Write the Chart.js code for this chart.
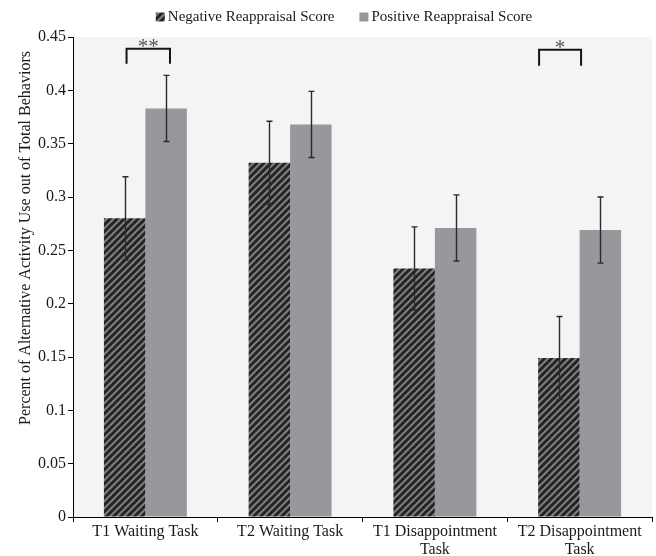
<!DOCTYPE html>
<html>
<head>
<meta charset="utf-8">
<script src="https://cdn.jsdelivr.net/npm/chart.js@4.4.1/dist/chart.umd.min.js"></script>
<style>
  html, body { margin: 0; padding: 0; background: #ffffff; }
  #wrap { width: 656px; height: 556px; position: relative; }
</style>
</head>
<body>
<div id="wrap"><canvas id="chart"></canvas></div>
<script>
// data
const categories = [
  ["T1 Waiting Task"],
  ["T2 Waiting Task"],
  ["T1 Disappointment", "Task"],
  ["T2 Disappointment", "Task"],
];
const seriesNames = ["Negative Reappraisal Score", "Positive Reappraisal Score"];
const negScores = [0.280, 0.332, 0.233, 0.149];
const posScores = [0.383, 0.368, 0.271, 0.269];
const negErrors = [0.039, 0.039, 0.039, 0.039];
const posErrors = [0.031, 0.031, 0.031, 0.031];
const yTicks = [0, 0.05, 0.1, 0.15, 0.2, 0.25, 0.3, 0.35, 0.4, 0.45];
const yTickLabels = ["0", "0.05", "0.1", "0.15", "0.2", "0.25", "0.3", "0.35", "0.4", "0.45"];
const yTitle = "Percent of Alternative Activity Use out of Total Behaviors";

// significance brackets: start/end in category units, top/foot in value units
const sigLabels = ["**", "*"];
const sigStart = [-0.13, 2.72];
const sigEnd = [0.17, 3.01];
const sigTop = [0.439, 0.438];
const sigFoot = [0.425, 0.423];

const FONT = "'Liberation Serif', 'Times New Roman', serif";
const POS_COLOR = "#97989c";
const PLOT_BG = "#f4f4f4";

// diagonal hatch for the negative series
function makeHatch() {
  const s = 7;
  const c = document.createElement("canvas");
  c.width = s;
  c.height = s;
  const g = c.getContext("2d");
  g.fillStyle = "#808080";
  g.fillRect(0, 0, s, s);
  g.strokeStyle = "#242424";
  g.lineWidth = 3;
  g.beginPath();
  for (let k = -1; k <= 1; k++) {
    g.moveTo(k * s - 1, s + 1);
    g.lineTo(k * s + s + 1, -1);
  }
  g.stroke();
  return g.createPattern(c, "repeat");
}
const hatch = makeHatch();
const errors = [negErrors, posErrors];

// plot background
const plotBg = {
  id: "plotBg",
  beforeDraw(chart) {
    const { ctx, chartArea: a } = chart;
    ctx.save();
    ctx.fillStyle = PLOT_BG;
    ctx.fillRect(a.left, a.top, a.right - a.left, a.bottom - a.top);
    ctx.restore();
  },
};

// error bars, brackets, legend and y title
const extras = {
  id: "extras",
  afterDatasetsDraw(chart) {
    const { ctx } = chart;
    const xs = chart.scales.x;
    const ys = chart.scales.y;
    ctx.save();
    ctx.strokeStyle = "#2a2a2a";
    ctx.lineWidth = 1.4;
    chart.data.datasets.forEach((ds, i) => {
      chart.getDatasetMeta(i).data.forEach((el, j) => {
        const v = ds.data[j];
        const e = errors[i][j];
        const x = Math.round(el.x) + 0.5;
        const y1 = ys.getPixelForValue(v + e);
        const y2 = ys.getPixelForValue(v - e);
        ctx.beginPath();
        ctx.moveTo(x, y1);
        ctx.lineTo(x, y2);
        ctx.moveTo(x - 3, y1);
        ctx.lineTo(x + 3, y1);
        ctx.moveTo(x - 3, y2);
        ctx.lineTo(x + 3, y2);
        ctx.stroke();
      });
    });

    // significance brackets
    ctx.strokeStyle = "#151515";
    ctx.lineWidth = 2;
    ctx.fillStyle = "#555555";
    ctx.font = "21px " + FONT;
    ctx.textAlign = "center";
    ctx.textBaseline = "alphabetic";
    sigLabels.forEach((lab, k) => {
      const x1 = xs.getPixelForValue(sigStart[k]);
      const x2 = xs.getPixelForValue(sigEnd[k]);
      const yt = ys.getPixelForValue(sigTop[k]);
      const yf = ys.getPixelForValue(sigFoot[k]);
      ctx.beginPath();
      ctx.moveTo(x1, yf);
      ctx.lineTo(x1, yt);
      ctx.lineTo(x2, yt);
      ctx.lineTo(x2, yf);
      ctx.stroke();
      ctx.fillText(lab, (x1 + x2) / 2, yt + 4);
    });
    ctx.restore();
  },
  afterDraw(chart) {
    const { ctx } = chart;
    ctx.save();
    // y axis title
    ctx.fillStyle = "#1a1a1a";
    ctx.font = "16px " + FONT;
    ctx.textAlign = "center";
    ctx.textBaseline = "middle";
    ctx.translate(26, 238);
    ctx.rotate(-Math.PI / 2);
    ctx.fillText(yTitle, 0, 0);
    ctx.restore();

    // legend
    ctx.save();
    ctx.font = "15px " + FONT;
    ctx.textBaseline = "middle";
    ctx.fillStyle = "#1a1a1a";
    const box = 9, gapText = 3, gapItem = 25, cy = 17;
    const widths = seriesNames.map((n) => box + gapText + ctx.measureText(n).width);
    const total = widths[0] + widths[1] + gapItem;
    let x = 344 - total / 2;
    const fills = [hatch, POS_COLOR];
    seriesNames.forEach((n, i) => {
      ctx.fillStyle = fills[i];
      ctx.fillRect(x, cy - 4.5, box, box);
      ctx.fillStyle = "#1a1a1a";
      ctx.fillText(n, x + box + gapText, cy);
      x += widths[i] + gapItem;
    });
    ctx.restore();
  },
};

new Chart(document.getElementById("chart"), {
  type: "bar",
  data: {
    labels: categories,
    datasets: [
      { label: seriesNames[0], data: negScores, backgroundColor: hatch },
      { label: seriesNames[1], data: posScores, backgroundColor: POS_COLOR },
    ],
  },
  options: {
    responsive: true,
    maintainAspectRatio: false,
    animation: false,
    layout: { padding: { top: 37, right: 4, left: 0, bottom: 0 } },
    datasets: { bar: { categoryPercentage: 0.573, barPercentage: 1, borderWidth: 0 } },
    plugins: { legend: { display: false }, tooltip: { enabled: false } },
    scales: {
      x: {
        afterFit: (s) => { s.height = 39; },
        grid: { display: true, drawOnChartArea: false, drawTicks: true, tickLength: 5, color: "#000", offset: true },
        border: { display: true, color: "#000", width: 1 },
        ticks: { color: "#1a1a1a", font: { family: FONT, size: 16, lineHeight: 1.1 }, padding: 1, maxRotation: 0, autoSkip: false },
      },
      y: {
        min: 0,
        max: 0.45,
        afterFit: (s) => { s.width = 73; },
        afterBuildTicks: (s) => { s.ticks = yTicks.map((v) => ({ value: v })); },
        grid: { display: true, drawOnChartArea: false, drawTicks: true, tickLength: 5, color: "#000" },
        border: { display: true, color: "#000", width: 1 },
        ticks: {
          color: "#1a1a1a",
          font: { family: FONT, size: 16 },
          padding: 2,
          callback: (v, i) => yTickLabels[i],
        },
      },
    },
  },
  plugins: [plotBg, extras],
});
</script>
</body>
</html>
